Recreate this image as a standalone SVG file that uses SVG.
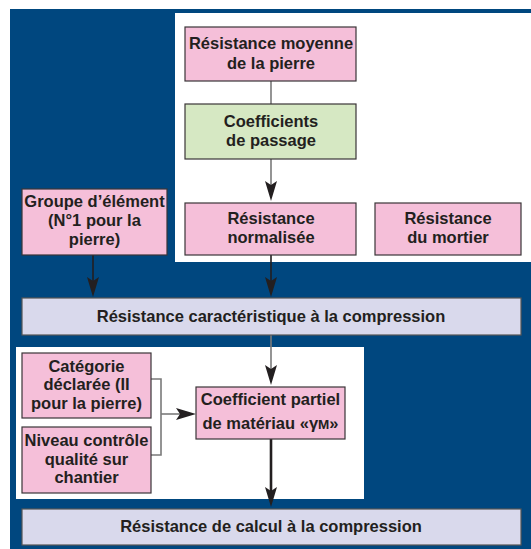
<svg xmlns="http://www.w3.org/2000/svg" width="531" height="549" viewBox="0 0 531 549">
<style>
.t{font-family:"Liberation Sans",Arial,sans-serif;font-weight:bold;font-size:16.5px;fill:#231f20;text-anchor:middle}
.pink{fill:#f5bfd9;stroke:#3a3537;stroke-width:1.2}
.green{fill:#d6e8c3;stroke:#3a3537;stroke-width:1.2}
.lav{fill:#d9d9ec;stroke:#555;stroke-width:1.2}
.g{stroke:#7a7a7a;stroke-width:1.6;fill:none}
.d{stroke:#231f20;stroke-width:1.6;fill:none}
</style>
<defs>
<marker id="ah" markerUnits="userSpaceOnUse" markerWidth="20" markerHeight="12" viewBox="0 0 20 12" refX="4" refY="6" orient="auto">
<path d="M0,0 L20,6 L0,12 L4,6 Z" fill="#231f20"/>
</marker>
</defs>
<rect x="0" y="0" width="531" height="549" fill="#fff"/>
<rect x="10" y="9" width="521" height="540" fill="#00477f"/>
<rect x="175" y="13" width="356" height="249" fill="#fff"/>
<rect x="16" y="347" width="348" height="152" fill="#fff"/>

<g id="connectors">
<line class="g" x1="271" y1="81" x2="271" y2="104"/>
<line class="g" x1="271" y1="159" x2="271" y2="185" marker-end="url(#ah)"/>
<line class="d" x1="93" y1="255" x2="93" y2="281" marker-end="url(#ah)"/>
<line class="d" x1="271" y1="255" x2="271" y2="281" marker-end="url(#ah)"/>
<line class="g" x1="271" y1="335" x2="271" y2="369" marker-end="url(#ah)"/>
<path class="g" d="M151,379 H161 V455 H151"/>
<line class="g" x1="161" y1="414" x2="180" y2="414" marker-end="url(#ah)"/>
<line class="d" style="stroke-width:2.6" x1="271" y1="439" x2="271" y2="491" marker-end="url(#ah)"/>
</g>

<g id="n-moyenne">
<rect class="pink" x="185" y="27" width="171" height="54"/>
<text class="t" x="271" y="49">Résistance moyenne</text>
<text class="t" x="271" y="69">de la pierre</text>
</g>
<g id="n-passage">
<rect class="green" x="185" y="104" width="171" height="55"/>
<text class="t" x="271" y="127">Coefficients</text>
<text class="t" x="271" y="146">de passage</text>
</g>
<g id="n-groupe">
<rect class="pink" x="22" y="189" width="145" height="66"/>
<text class="t" x="94.5" y="207">Groupe d’élément</text>
<text class="t" x="94.5" y="226">(N°1 pour la</text>
<text class="t" x="94.5" y="245">pierre)</text>
</g>
<g id="n-normalisee">
<rect class="pink" x="185" y="203" width="171" height="52"/>
<text class="t" x="271" y="224">Résistance</text>
<text class="t" x="271" y="243">normalisée</text>
</g>
<g id="n-mortier">
<rect class="pink" x="375" y="203" width="146" height="52"/>
<text class="t" x="448" y="224">Résistance</text>
<text class="t" x="448" y="243">du mortier</text>
</g>
<g id="n-caracteristique">
<rect class="lav" x="22" y="298" width="499" height="37"/>
<text class="t" x="271" y="321.5">Résistance caractéristique à la compression</text>
</g>
<g id="n-categorie">
<rect class="pink" x="22" y="353" width="129" height="65"/>
<text class="t" x="86.5" y="371.5">Catégorie</text>
<text class="t" x="86.5" y="390">déclarée (II</text>
<text class="t" x="86.5" y="408.5">pour la pierre)</text>
</g>
<g id="n-niveau">
<rect class="pink" x="22" y="427" width="129" height="66"/>
<text class="t" x="86.5" y="446">Niveau contrôle</text>
<text class="t" x="86.5" y="464.5">qualité sur</text>
<text class="t" x="86.5" y="483">chantier</text>
</g>
<g id="n-partiel">
<rect class="pink" x="196" y="387" width="149" height="52"/>
<text class="t" x="270.5" y="405">Coefficient partiel</text>
<text class="t" x="270.5" y="429">de matériau «γ<tspan font-size="13.5">M</tspan>»</text>
</g>
<g id="n-calcul">
<rect class="lav" x="22" y="509" width="499" height="36"/>
<text class="t" x="271" y="532">Résistance de calcul à la compression</text>
</g>
</svg>
